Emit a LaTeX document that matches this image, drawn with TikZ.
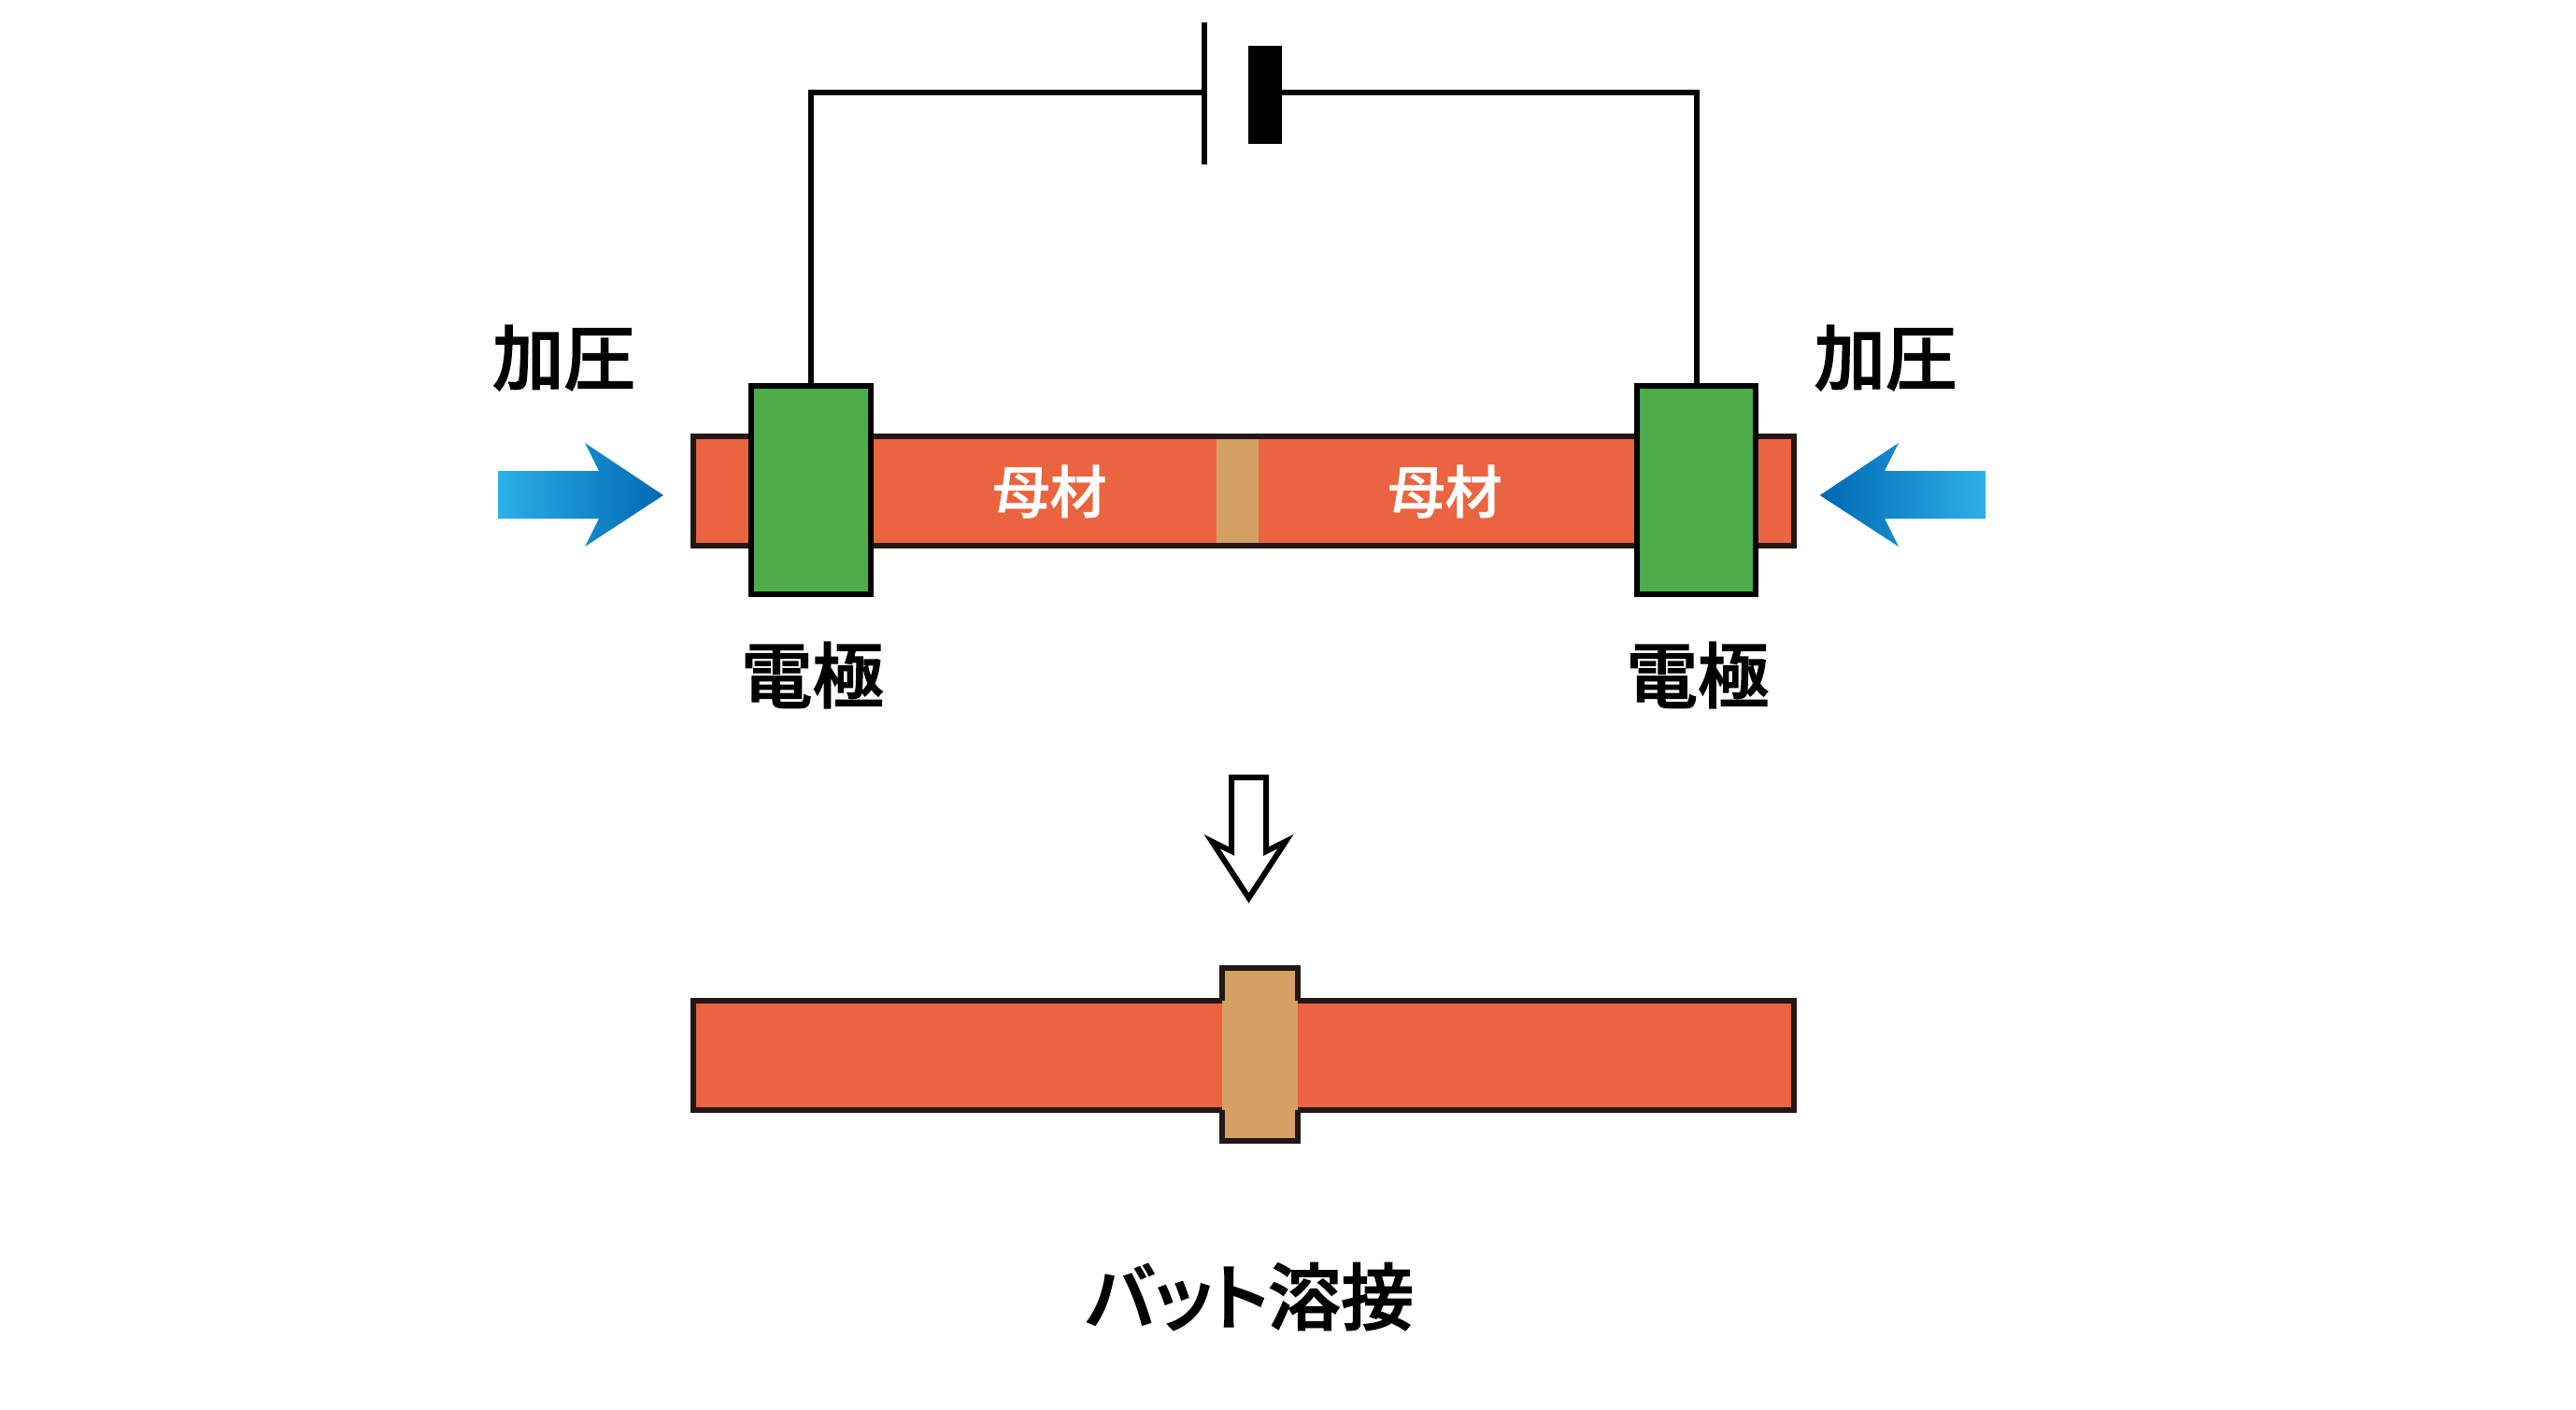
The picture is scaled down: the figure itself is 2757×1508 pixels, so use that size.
\documentclass[tikz,border=0pt]{standalone}
\usepackage{fontspec}
\newfontfamily\jp[FakeBold=1.8]{Noto Sans CJK JP Medium}
\newfontfamily\jpwhite[FakeBold=1]{Noto Sans CJK JP Medium}
\newfontfamily\jptitle[RawFeature={+palt},FakeBold=1.8]{Noto Sans CJK JP Medium}
\definecolor{barred}{HTML}{EA6440}
\definecolor{weldtan}{HTML}{D5A063}
\definecolor{darkline}{HTML}{231815}
\definecolor{elecgreen}{HTML}{4CAD4A}
\definecolor{arrowlight}{HTML}{2CB0E8}
\definecolor{arrowdark}{HTML}{0068B3}
\tikzset{
  box/.style={rectangle,inner sep=0pt,outer sep=0pt},
  barbox/.style={box,draw=darkline,line width=6pt,fill=barred,minimum width=1178pt},
  weldbox/.style={box,fill=weldtan},
  elecbox/.style={box,draw=black,line width=6pt,fill=elecgreen,minimum width=127.5pt,minimum height=223pt},
  wire/.style={draw=black,line width=6pt,line join=miter},
  boldlabel/.style={box,text=black,font=\jp\fontsize{76.5}{76.5}\selectfont},
  titlelabel/.style={box,text=black,font=\jptitle\fontsize{78}{78}\selectfont},
  whitelabel/.style={box,text=white,font=\jpwhite\fontsize{61}{61}\selectfont},
}
\begin{document}
\begin{tikzpicture}[x=1pt,y=-1pt]
\useasboundingbox (0,0) rectangle (2757,1508);
% upper bar
\node[barbox,minimum height=117pt] (barA) at (1331,525.5) {};
\node[weldbox,minimum width=45pt,minimum height=111pt] (weldA) at (1324,525.5) {};
% electrodes and battery
\node[elecbox] (elecL) at (868.2,524.5) {};
\node[elecbox] (elecR) at (1815.7,524.5) {};
\node[box,fill=black,minimum width=6pt,minimum height=152pt] (plateA) at (1288.7,100) {};
\node[box,fill=black,minimum width=36pt,minimum height=105pt] (plateB) at (1354,101.5) {};
\coordinate (wireA) at (1288.7,99);
\coordinate (wireB) at (1372,99);
\draw[wire] (elecL.north) |- (wireA);
\draw[wire] (elecR.north) |- (wireB);
% pressure arrows
\shade[left color=arrowlight,right color=arrowdark]
  (533,504) -- (641,504) -- (626,474) -- (710,530) -- (626,585) -- (641,555) -- (533,555) -- cycle;
\shade[left color=arrowdark,right color=arrowlight]
  (2125,504) -- (2017,504) -- (2032,474) -- (1947.7,530) -- (2032,585) -- (2017,555) -- (2125,555) -- cycle;
% labels
\node[boldlabel] (pressL) at (603.5,383) {加圧};
\node[boldlabel] (pressR) at (2018,383) {加圧};
\node[boldlabel] (elecLabelL) at (869.5,722.5) {電極};
\node[boldlabel] (elecLabelR) at (1817,722.5) {電極};
\node[whitelabel] (baseL) at (1123.5,526) {母材};
\node[whitelabel] (baseR) at (1546.5,526) {母材};
% hollow arrow
\draw[black,fill=white,line width=6pt,miter limit=10]
  (1318,832) -- (1355,832) -- (1355,911) -- (1376,900.5) -- (1336.5,961) -- (1297,900.5) -- (1318,911) -- cycle;
% lower bar
\node[barbox,minimum height=117pt] (barB) at (1331,1129) {};
\node[weldbox,minimum width=81.5pt,minimum height=185pt] (weldB) at (1348.7,1128.5) {};
\draw[draw=darkline,line width=6pt,miter limit=10]
  (barB.north -| weldB.west) -- (weldB.north west) -- (weldB.north east) -- (barB.north -| weldB.east);
\draw[draw=darkline,line width=6pt,miter limit=10]
  (barB.south -| weldB.west) -- (weldB.south west) -- (weldB.south east) -- (barB.south -| weldB.east);
\node[titlelabel] (title) at (1337.5,1387.5) {バット溶接};
\end{tikzpicture}
\end{document}
